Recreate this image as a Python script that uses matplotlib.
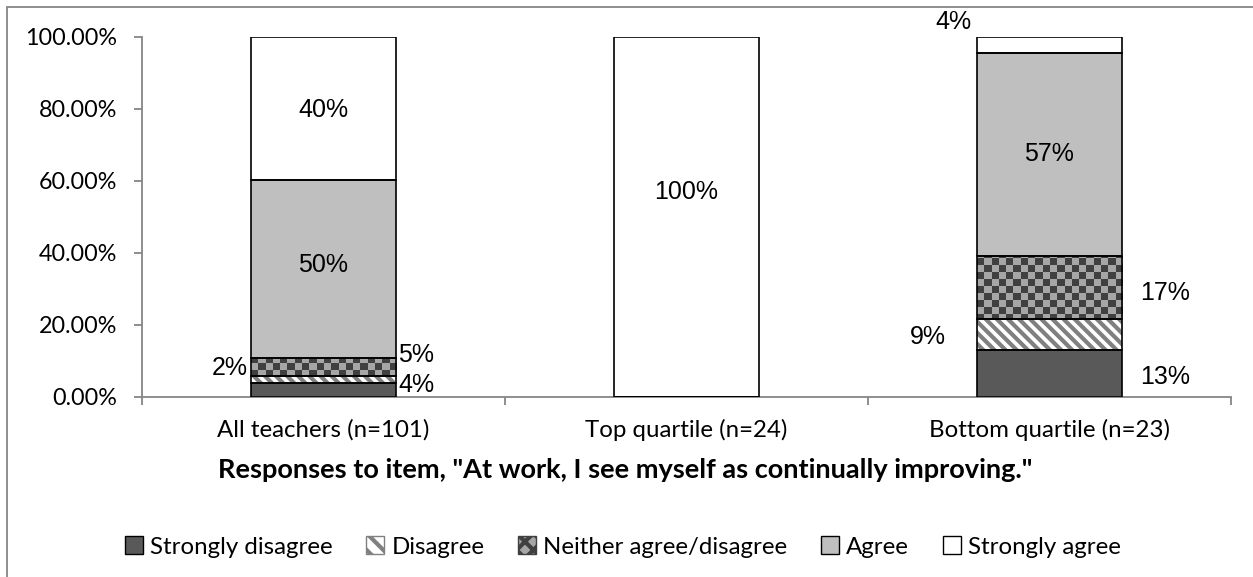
import matplotlib.pyplot as plt
import numpy as np
from matplotlib.colors import ListedColormap
from matplotlib.patches import Patch, Rectangle

groups = ['All teachers (n=101)', 'Top quartile (n=24)', 'Bottom quartile (n=23)']
responses = ['Strongly disagree', 'Disagree', 'Neither agree/disagree', 'Agree', 'Strongly agree']

# percent of each group giving each response
strongly_disagree = [3.96, 0.0, 13.04]
disagree = [1.98, 0.0, 8.70]
neither = [4.95, 0.0, 17.39]
agree = [49.50, 0.0, 56.52]
strongly_agree = [39.60, 100.0, 4.35]

y_ticks = [0, 20, 40, 60, 80, 100]

# where each value label sits: (group, response) -> (side, dx pt, dy pt)
label_place = {
    (0, 0): ('left', 1.5, 3.5),
    (0, 1): ('right', -2, 8),
    (0, 2): ('left', 1.5, 8.5),
    (0, 3): ('center', 0, 3),
    (0, 4): ('center', 0, -1.5),
    (1, 4): ('center', 0, 18),
    (2, 0): ('left', 13, -2.5),
    (2, 1): ('right', -22, -2),
    (2, 2): ('left', 13, -4),
    (2, 3): ('center', 0, 0),
    (2, 4): ('right', -3.6, 16.5),
}

label_font = 'Liberation Sans'
axis_font = ['Lato', 'DejaVu Sans']
plt.rcParams['hatch.linewidth'] = 3.0

fig = plt.figure(figsize=(12.53, 5.77), dpi=100)
ax = fig.add_axes([0.1133, 0.312, 0.8691, 0.6239])

# chart frame
fig.patches.append(Rectangle((7 / 1253, -0.1), 1.2, 1.1 - 7 / 577, transform=fig.transFigure,
                             fill=False, edgecolor='#868686', linewidth=1.3))

checker = ListedColormap(['#404040', '#a6a6a6'])

x = np.arange(len(groups))
width = 0.4
series = [strongly_disagree, disagree, neither, agree, strongly_agree]
bottom = np.zeros(len(groups))
segments = []
for i, values in enumerate(series):
    values = np.array(values)
    if i == 1:
        bars = ax.bar(x, values, width, bottom=bottom, color='white', edgecolor='#808080',
                      linewidth=0, hatch='\\\\\\', zorder=2)
    elif i == 2:
        bars = ax.bar(x, values, width, bottom=bottom, color='#a6a6a6', linewidth=0, zorder=2)
        # checkerboard fill
        for b in bars:
            if b.get_height() <= 0:
                continue
            cols = 20
            rows = 52
            board = np.add.outer(np.arange(rows), np.arange(cols)) % 2
            im = ax.imshow(board, cmap=checker, vmin=0, vmax=1, interpolation='nearest',
                           extent=(b.get_x(), b.get_x() + b.get_width(), 0, 100),
                           aspect='auto', zorder=2.5)
            im.set_clip_path(b)
    else:
        colors = {0: '#595959', 3: '#bfbfbf', 4: 'white'}
        bars = ax.bar(x, values, width, bottom=bottom, color=colors[i], linewidth=0, zorder=2)
    # black outlines on top
    ax.bar(x, values, width, bottom=bottom, fill=False, edgecolor='black', linewidth=1.2, zorder=3)
    for g, b in enumerate(bars):
        if (g, i) in label_place:
            segments.append((g, i, b))
    bottom += values

for g, i, b in segments:
    side, dx, dy = label_place[(g, i)]
    yc = b.get_y() + b.get_height() / 2
    if side == 'center':
        xa, ha = b.get_x() + b.get_width() / 2, 'center'
    elif side == 'left':
        xa, ha = b.get_x() + b.get_width(), 'left'
    else:
        xa, ha = b.get_x(), 'right'
    ax.annotate(f'{b.get_height():.0f}%', (xa, yc), xytext=(dx, dy), textcoords='offset points',
                ha=ha, va='center', fontsize=18, family=label_font, zorder=4)

ax.set_xlim(-0.5, 2.5)
ax.set_ylim(0, 100)
ax.set_yticks(y_ticks)
ax.set_yticklabels([f'{v:.2f}%' for v in y_ticks], family=axis_font, fontsize=16.8)
ax.set_xticks(np.arange(len(groups) + 1) - 0.5)
ax.set_xticklabels([])
ax.set_xticks(x, minor=True)
ax.set_xticklabels(groups, minor=True, family=axis_font, fontsize=17.3)
ax.tick_params(axis='x', which='minor', length=0, pad=16)
ax.tick_params(axis='both', which='major', length=6, width=1.3, color='#868686', direction='out')
ax.tick_params(axis='y', pad=12)
for side in ('top', 'right'):
    ax.spines[side].set_visible(False)
for side in ('left', 'bottom'):
    ax.spines[side].set_color('#868686')
    ax.spines[side].set_linewidth(1.3)
# axis title is centred on the whole chart, not the plot area
ax.set_xlabel('Responses to item, "At work, I see myself as continually improving."',
              family=axis_font, fontsize=19.5, fontweight='bold', labelpad=12, x=0.444)

handles = [
    Patch(facecolor='#595959', edgecolor='black', linewidth=1),
    Patch(facecolor='white', edgecolor='#808080', linewidth=1, hatch='\\\\'),
    Patch(facecolor='#a6a6a6', edgecolor='#404040', linewidth=1, hatch='xx'),
    Patch(facecolor='#bfbfbf', edgecolor='black', linewidth=1),
    Patch(facecolor='white', edgecolor='black', linewidth=1),
]
leg = fig.legend(handles, responses, loc='center', bbox_to_anchor=(0.497, 0.052), ncol=5,
                 frameon=False, prop={'family': axis_font, 'size': 17.3}, handlelength=0.75,
                 handleheight=0.75, handletextpad=0.3, columnspacing=1.4)
for h in leg.legend_handles:
    h.set_linewidth(1)

fig.savefig('out.png', dpi=100)
